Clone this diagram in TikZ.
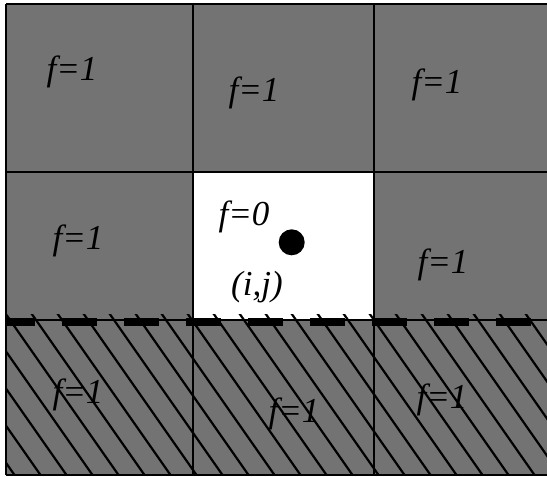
\documentclass[tikz,border=0pt]{standalone}
\usepackage{fontspec}
\setmainfont{Liberation Serif}
\definecolor{cellgray}{RGB}{115,115,115}
\begin{document}
\begin{tikzpicture}[x=1pt,y=-1pt,
  lbl/.style={font=\fontsize{35}{40}\selectfont\itshape, inner sep=0pt},
  gridline/.style={line width=1.8pt, black},
  hatchline/.style={line width=2.2pt, black},
  dashline/.style={line width=8pt, dash pattern=on 35pt off 27pt, dash phase=5pt},
  dotnode/.style={circle, fill=black, minimum size=26pt, inner sep=0pt}]
\useasboundingbox (0,0) rectangle (547,477);
% cells
\fill[cellgray] (6,4) rectangle (547,475);
\fill[white] (193,172) rectangle (374,320);
% hatching of the bottom row
\begin{scope}
  \clip (6,314) rectangle (547,475);
  \foreach \k in {-6,...,21} {
    \draw[hatchline] ({10+26*\k-14},300) -- ({10+26*\k+112},480);
  }
\end{scope}
% grid
\draw[gridline] (6,4) -- (547,4);
\draw[gridline] (6,172) -- (547,172);
\draw[gridline] (6,320) -- (547,320);
\draw[gridline] (6,475) -- (547,475);
\draw[gridline] (6,4) -- (6,475);
\draw[gridline] (193,4) -- (193,475);
\draw[gridline] (374,4) -- (374,475);
% dashed boundary
\draw[dashline] (5,321.5) -- (547,321.5);
% labels
\node[lbl] (t1) at (72,72) {f=1};
\node[lbl] (t2) at (254,93) {f=1};
\node[lbl] (t3) at (437,85) {f=1};
\node[lbl] (t4) at (78,241) {f=1};
\node[lbl] (t0) at (244,217) {f=0};
\node[dotnode] (dot) at (291.7,242.3) {};
\node[lbl] (ij) at (257,287) {(i,j)};
\node[lbl] (t5) at (443,265) {f=1};
\node[lbl] (b1) at (78,395) {f=1};
\node[lbl] (b2) at (294,414) {f=1};
\node[lbl] (b3) at (442,400) {f=1};
\end{tikzpicture}
\end{document}
